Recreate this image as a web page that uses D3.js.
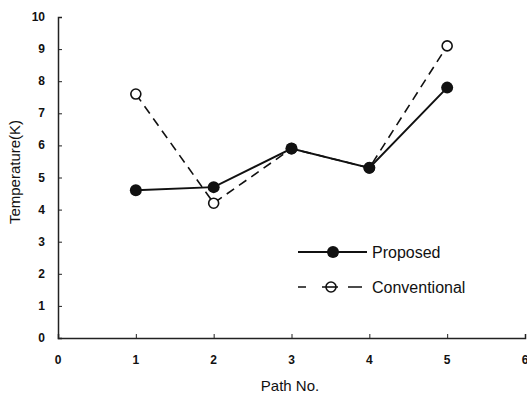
<!DOCTYPE html>
<html>
<head>
<meta charset="utf-8">
<script src="https://cdn.jsdelivr.net/npm/d3@7"></script>
<style>
	body { margin: 0; background: #fff; }
	svg text { font-family: "Liberation Sans", Arial, sans-serif; fill: #111; }
</style>
</head>
<body>
<div id="chart"></div>
<script>
'use strict';

// values
const pathNo = [1, 2, 3, 4, 5];
const proposed = [4.6, 4.7, 5.9, 5.3, 7.8];
const conventional = [7.6, 4.2, 5.9, 5.3, 9.1];
const xTicks = [0, 1, 2, 3, 4, 5, 6];
const yTicks = [0, 1, 2, 3, 4, 5, 6, 7, 8, 9, 10];

const width = 527, height = 395;
const margin = { top: 17, right: 2, bottom: 57, left: 58 };

const svg = d3.select("#chart")
	.append("svg")
		.attr("width", width)
		.attr("height", height);

const xScale = d3.scaleLinear()
	.domain([0, 6])
	.range([margin.left, width - margin.right]);

const yScale = d3.scaleLinear()
	.domain([0, 10])
	.range([height - margin.bottom, margin.top]);

// axes, ticks pointing inward
const xAxis = svg.append("g")
	.attr("transform", `translate(0,${yScale(0)})`)
	.call(d3.axisTop(xScale).tickValues(xTicks).tickSize(4).tickPadding(0).tickFormat(""));
xAxis.select(".domain").attr("stroke", "#222").attr("stroke-width", 1.5);
xAxis.selectAll(".tick line").attr("stroke", "#222");

svg.append("g")
	.selectAll("text")
	.data(xTicks)
	.join("text")
		.attr("x", d => xScale(d))
		.attr("y", yScale(0) + 26)
		.attr("text-anchor", "middle")
		.attr("font-size", 12)
		.attr("font-weight", "bold")
		.text(d => d);

const yAxis = svg.append("g")
	.attr("transform", `translate(${xScale(0)},0)`)
	.call(d3.axisRight(yScale).tickValues(yTicks).tickSize(4).tickFormat(""));
yAxis.select(".domain").attr("stroke", "#222").attr("stroke-width", 1.5);
yAxis.selectAll(".tick line").attr("stroke", "#222");

svg.append("g")
	.selectAll("text")
	.data(yTicks)
	.join("text")
		.attr("x", xScale(0) - 13)
		.attr("y", d => yScale(d) + 4)
		.attr("text-anchor", "end")
		.attr("font-size", 12)
		.attr("font-weight", "bold")
		.text(d => d);

// axis titles
svg.append("text")
	.attr("x", 290)
	.attr("y", 391)
	.attr("text-anchor", "middle")
	.attr("font-size", 15)
	.text("Path No.");

svg.append("text")
	.attr("transform", `translate(20,172) rotate(-90)`)
	.attr("text-anchor", "middle")
	.attr("font-size", 15)
	.text("Temperature(K)");

const line = d3.line()
	.x((d, i) => xScale(pathNo[i]))
	.y(d => yScale(d));

// conventional (dashed, hollow)
svg.append("path")
	.datum(conventional)
	.attr("d", line)
	.attr("fill", "none")
	.attr("stroke", "#111")
	.attr("stroke-width", 1.6)
	.attr("stroke-dasharray", "9,6");

svg.append("g")
	.selectAll("circle")
	.data(conventional)
	.join("circle")
		.attr("cx", (d, i) => xScale(pathNo[i]))
		.attr("cy", d => yScale(d))
		.attr("r", 5)
		.attr("fill", "#fff")
		.attr("stroke", "#111")
		.attr("stroke-width", 1.6);

// proposed (solid, filled)
svg.append("path")
	.datum(proposed)
	.attr("d", line)
	.attr("fill", "none")
	.attr("stroke", "#111")
	.attr("stroke-width", 2);

svg.append("g")
	.selectAll("circle")
	.data(proposed)
	.join("circle")
		.attr("cx", (d, i) => xScale(pathNo[i]))
		.attr("cy", d => yScale(d))
		.attr("r", 6)
		.attr("fill", "#111");

// legend
const legend = svg.append("g");
legend.append("line")
	.attr("x1", 298).attr("x2", 367)
	.attr("y1", 252).attr("y2", 252)
	.attr("stroke", "#111").attr("stroke-width", 2);
legend.append("circle")
	.attr("cx", 333).attr("cy", 252).attr("r", 6).attr("fill", "#111");
legend.append("text")
	.attr("x", 372).attr("y", 258)
	.attr("font-size", 16)
	.text("Proposed");

legend.append("line")
	.attr("x1", 298).attr("x2", 362)
	.attr("y1", 287).attr("y2", 287)
	.attr("stroke", "#111").attr("stroke-width", 1.6)
	.attr("stroke-dasharray", "8,16,16,10,14");
legend.append("circle")
	.attr("cx", 331).attr("cy", 287).attr("r", 5)
	.attr("fill", "#fff").attr("stroke", "#111").attr("stroke-width", 1.6);
legend.append("line")
	.attr("x1", 326).attr("x2", 336)
	.attr("y1", 287).attr("y2", 287)
	.attr("stroke", "#111").attr("stroke-width", 1.6);
legend.append("text")
	.attr("x", 372).attr("y", 293)
	.attr("font-size", 16)
	.text("Conventional");
</script>
</body>
</html>
